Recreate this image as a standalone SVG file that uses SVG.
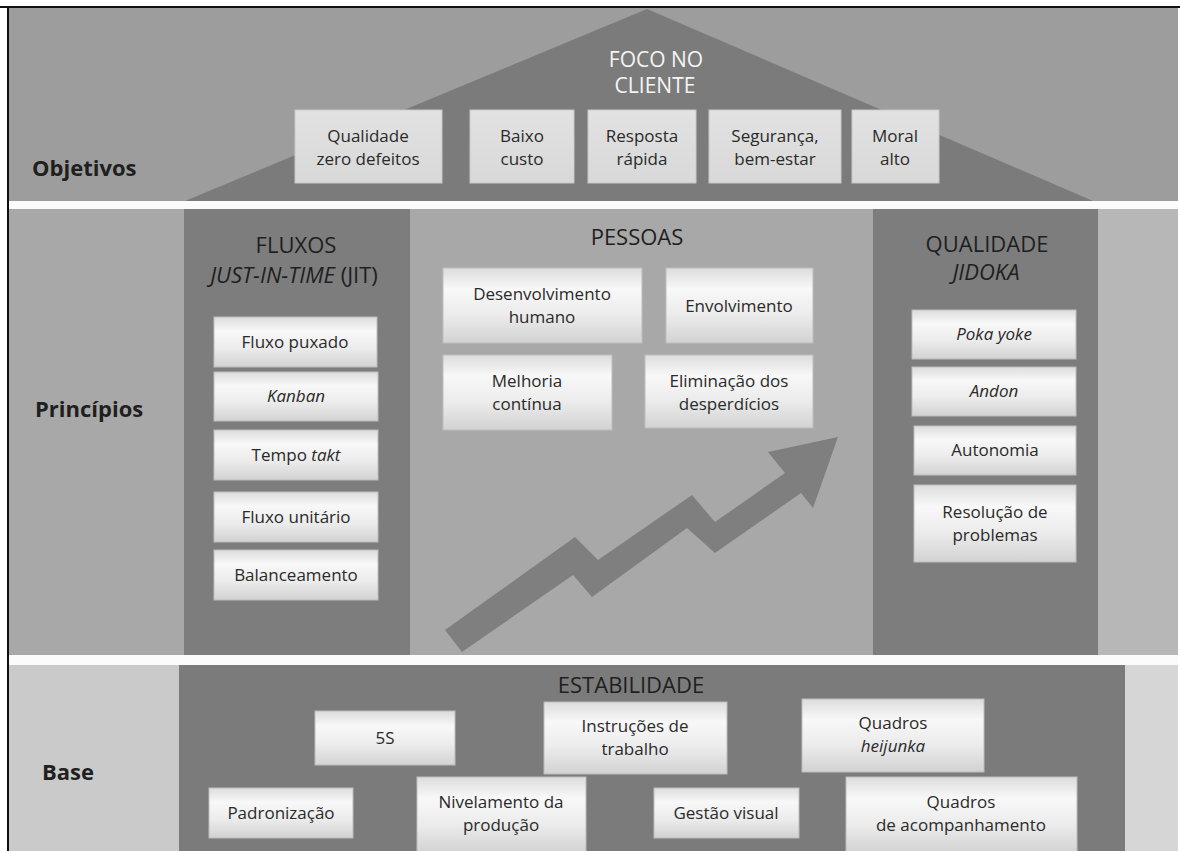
<svg xmlns="http://www.w3.org/2000/svg" width="1180" height="851" viewBox="0 0 1180 851">
<defs>
<linearGradient id="boxGrad" x1="0" y1="0" x2="0" y2="1">
<stop offset="0" stop-color="#dcdcdc"/>
<stop offset="0.28" stop-color="#f8f8f8"/>
<stop offset="0.62" stop-color="#ececec"/>
<stop offset="1" stop-color="#d2d2d2"/>
</linearGradient>
<linearGradient id="topGrad" x1="0" y1="0" x2="0" y2="1">
<stop offset="0" stop-color="#e2e2e2"/>
<stop offset="1" stop-color="#d8d8d8"/>
</linearGradient>
<style>
.box{fill:url(#boxGrad);stroke:#bdbdbd;stroke-width:1}
.tbox{fill:url(#topGrad);stroke:#c8c8c8;stroke-width:1}
.t{font-family:"Open Sans","Liberation Sans",sans-serif;font-size:17px;fill:#2a2a2a;text-anchor:middle}
.i{font-style:italic}
.h{font-size:22px;fill:#1f1f1f}
.wh{font-size:21px;fill:#f5f5f5}
.lbl{font-family:"Open Sans","Liberation Sans",sans-serif;font-weight:bold;font-size:22px;fill:#1f1f1f}
.col{fill:#7d7d7d}
</style>
</defs>
<rect x="0" y="0" width="1180" height="851" fill="#ffffff"/>
<g id="background">
<rect x="8" y="8" width="1170" height="193" fill="#9d9d9d"/>
<polygon points="185,201 647,9 1093,201" fill="#7b7b7b"/>
<rect x="8" y="201" width="1170" height="8" fill="#fbfbfb"/>
<rect x="8" y="209" width="1170" height="446" fill="#a8a8a8"/>
<rect x="1098" y="209" width="80" height="446" fill="#b7b7b7"/>
<rect x="184" y="209" width="226" height="446" class="col"/>
<rect x="873" y="209" width="225" height="446" class="col"/>
<rect x="8" y="655" width="1170" height="10" fill="#fbfbfb"/>
<rect x="8" y="665" width="1170" height="186" fill="#cacaca"/>
<rect x="1125" y="665" width="53" height="186" fill="#d6d6d6"/>
<rect x="179" y="665" width="946" height="186" fill="#7b7b7b"/>
<rect x="0" y="6" width="1180" height="2" fill="#111111"/>
<rect x="7" y="6" width="2" height="845" fill="#111111"/>
</g>
<g id="labels">
<text class="lbl" x="32" y="176">Objetivos</text>
<text class="lbl" x="35" y="417">Princípios</text>
<text class="lbl" x="42" y="780">Base</text>
</g>
<g id="foco-no-cliente">
<text class="t wh" x="656" y="67">FOCO NO</text>
<text class="t wh" x="655" y="93">CLIENTE</text>
</g>
<g id="obj-qualidade">
<rect class="tbox" x="295" y="110" width="147" height="73"/>
<text class="t" x="368" y="142">Qualidade</text>
<text class="t" x="368" y="165">zero defeitos</text>
</g>
<g id="obj-baixo-custo">
<rect class="tbox" x="470" y="110" width="104" height="73"/>
<text class="t" x="522" y="142">Baixo</text>
<text class="t" x="522" y="165">custo</text>
</g>
<g id="obj-resposta">
<rect class="tbox" x="588" y="110" width="108" height="73"/>
<text class="t" x="642" y="142">Resposta</text>
<text class="t" x="642" y="165">rápida</text>
</g>
<g id="obj-seguranca">
<rect class="tbox" x="709" y="110" width="132" height="73"/>
<text class="t" x="775" y="142">Segurança,</text>
<text class="t" x="775" y="165">bem-estar</text>
</g>
<g id="obj-moral">
<rect class="tbox" x="852" y="110" width="87" height="73"/>
<text class="t" x="895" y="142">Moral</text>
<text class="t" x="895" y="165">alto</text>
</g>
<g id="fluxos-header">
<text class="t h" x="296" y="253">FLUXOS</text>
<text class="t h" x="294" y="283"><tspan class="i">JUST-IN-TIME</tspan> (JIT)</text>
</g>
<g id="fluxo-puxado">
<rect class="box" x="214" y="317" width="163" height="50"/>
<text class="t" x="295" y="348">Fluxo puxado</text>
</g>
<g id="kanban">
<rect class="box" x="214" y="372" width="164" height="49"/>
<text class="t i" x="296" y="402">Kanban</text>
</g>
<g id="tempo-takt">
<rect class="box" x="214" y="430" width="164" height="50"/>
<text class="t" x="296" y="461">Tempo <tspan class="i">takt</tspan></text>
</g>
<g id="fluxo-unitario">
<rect class="box" x="214" y="492" width="164" height="50"/>
<text class="t" x="296" y="523">Fluxo unitário</text>
</g>
<g id="balanceamento">
<rect class="box" x="214" y="550" width="164" height="50"/>
<text class="t" x="296" y="581">Balanceamento</text>
</g>
<g id="pessoas-header">
<text class="t h" x="637" y="245">PESSOAS</text>
</g>
<g id="desenvolvimento-humano">
<rect class="box" x="443" y="268" width="199" height="75"/>
<text class="t" x="542" y="300">Desenvolvimento</text>
<text class="t" x="542" y="323">humano</text>
</g>
<g id="envolvimento">
<rect class="box" x="666" y="268" width="147" height="75"/>
<text class="t" x="739" y="312">Envolvimento</text>
</g>
<g id="melhoria-continua">
<rect class="box" x="443" y="355" width="169" height="75"/>
<text class="t" x="527" y="387">Melhoria</text>
<text class="t" x="527" y="410">contínua</text>
</g>
<g id="eliminacao-desperdicios">
<rect class="box" x="645" y="355" width="168" height="73"/>
<text class="t" x="729" y="387">Eliminação dos</text>
<text class="t" x="729" y="410">desperdícios</text>
</g>
<g id="growth-arrow">
<polygon points="445,630 575,537 598,560 692,495 715,522 785,473 768,452 838,437 813,508 801,493 715,553 687,528 592,597 573,575 462,652" fill="#7f7f7f"/>
</g>
<g id="qualidade-header">
<text class="t h" x="987" y="252">QUALIDADE</text>
<text class="t h i" x="986" y="280">JIDOKA</text>
</g>
<g id="poka-yoke">
<rect class="box" x="912" y="310" width="164" height="49"/>
<text class="t i" x="994" y="340">Poka yoke</text>
</g>
<g id="andon">
<rect class="box" x="912" y="367" width="164" height="49"/>
<text class="t i" x="994" y="397">Andon</text>
</g>
<g id="autonomia">
<rect class="box" x="914" y="426" width="162" height="49"/>
<text class="t" x="995" y="456">Autonomia</text>
</g>
<g id="resolucao-problemas">
<rect class="box" x="914" y="485" width="162" height="77"/>
<text class="t" x="995" y="518">Resolução de</text>
<text class="t" x="995" y="541">problemas</text>
</g>
<g id="estabilidade-header">
<text class="t h" x="631" y="693">ESTABILIDADE</text>
</g>
<g id="cinco-s">
<rect class="box" x="315" y="711" width="140" height="54"/>
<text class="t" x="385" y="744">5S</text>
</g>
<g id="instrucoes-trabalho">
<rect class="box" x="544" y="702" width="183" height="72"/>
<text class="t" x="635" y="732">Instruções  de</text>
<text class="t" x="635" y="755">trabalho</text>
</g>
<g id="quadros-heijunka">
<rect class="box" x="802" y="699" width="182" height="73"/>
<text class="t" x="893" y="729">Quadros</text>
<text class="t i" x="893" y="752">heijunka</text>
</g>
<g id="padronizacao">
<rect class="box" x="209" y="788" width="144" height="50"/>
<text class="t" x="281" y="819">Padronização</text>
</g>
<g id="nivelamento-producao">
<rect class="box" x="417" y="777" width="169" height="76"/>
<text class="t" x="501" y="808">Nivelamento da</text>
<text class="t" x="501" y="831">produção</text>
</g>
<g id="gestao-visual">
<rect class="box" x="654" y="788" width="145" height="50"/>
<text class="t" x="726" y="819">Gestão visual</text>
</g>
<g id="quadros-acompanhamento">
<rect class="box" x="846" y="777" width="231" height="76"/>
<text class="t" x="961" y="808">Quadros</text>
<text class="t" x="961" y="831">de acompanhamento</text>
</g>
<g id="connectors"/>
</svg>
